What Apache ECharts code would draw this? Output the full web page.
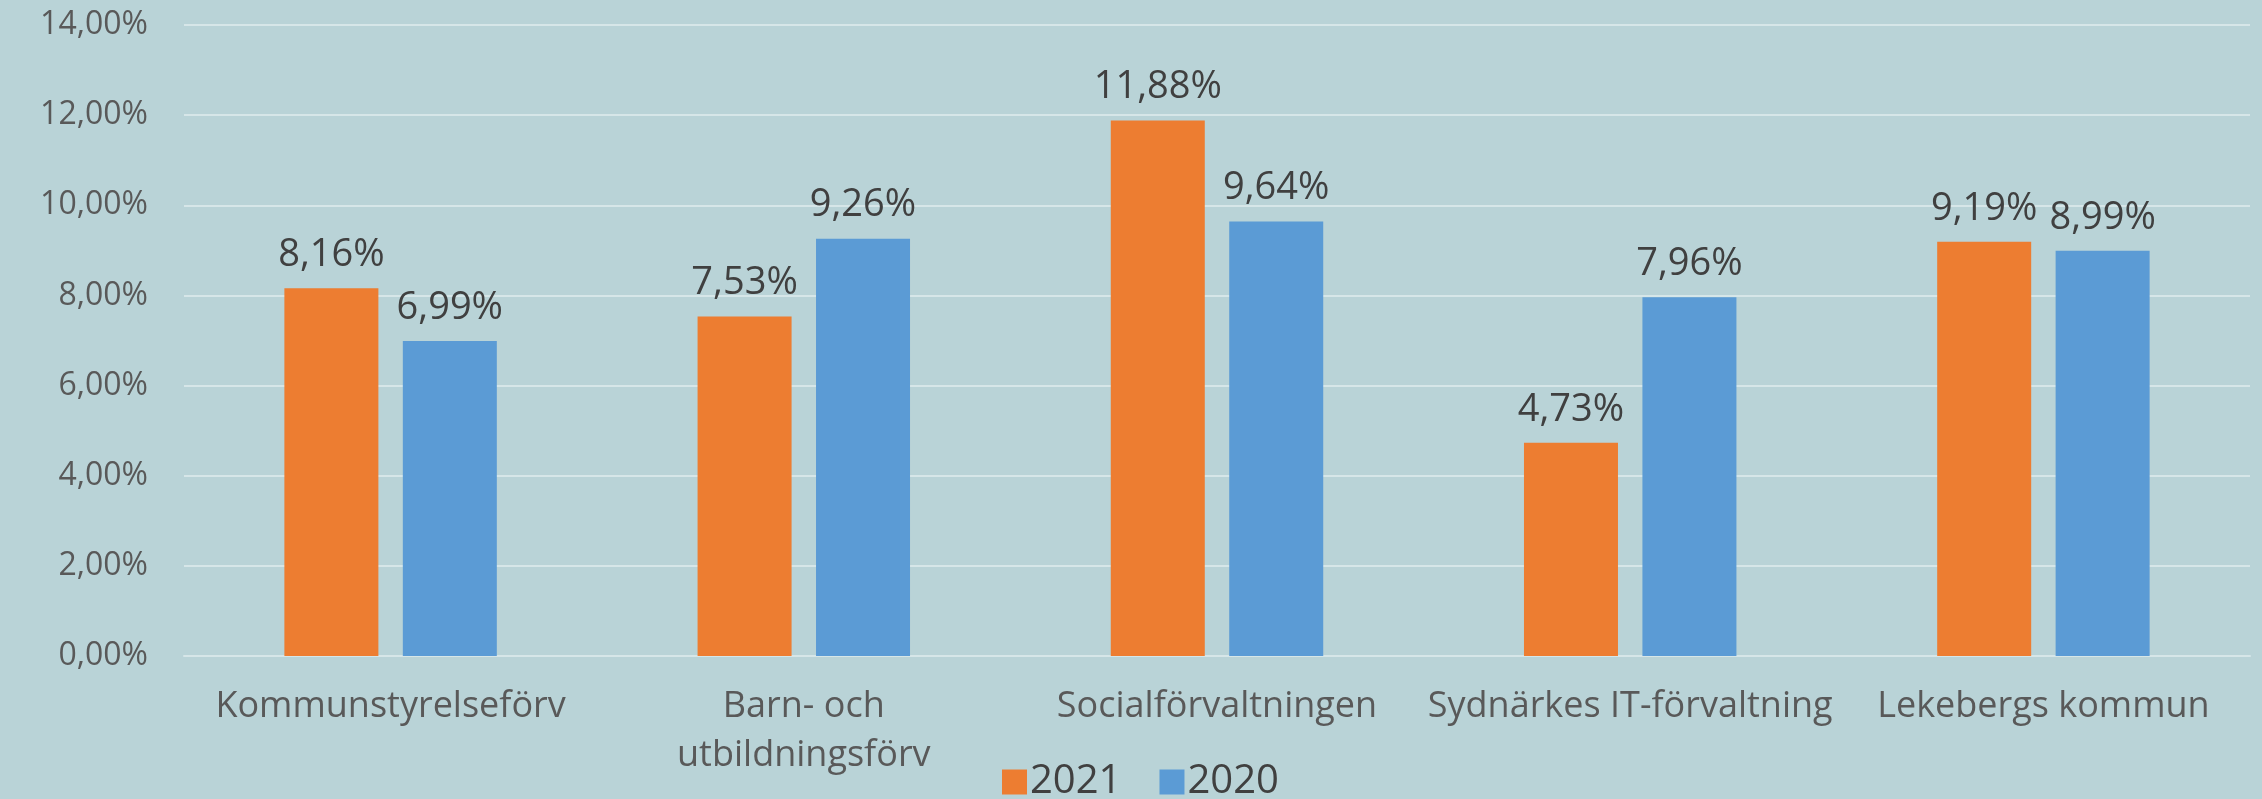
<!DOCTYPE html>
<html>
<head>
<meta charset="utf-8">
<script src="https://cdn.jsdelivr.net/npm/echarts@6/dist/echarts.min.js"></script>
<style>
html,body{margin:0;padding:0;background:#b9d3d7;}
#chart{width:2262px;height:799px;}
</style>
</head>
<body>
<div id="chart"></div>
<script>
var categories = ['Kommunstyrelseförv', 'Barn- och\nutbildningsförv', 'Socialförvaltningen', 'Sydnärkes IT-förvaltning', 'Lekebergs kommun'];
var series2021 = [8.16, 7.53, 11.88, 4.73, 9.19];
var series2020 = [6.99, 9.26, 9.64, 7.96, 8.99];
var seriesNames = ['2021', '2020'];
var yTicks = { min: 0, max: 14, interval: 2 };

function pct(v) { return v.toFixed(2).replace('.', ',') + '%'; }

var FONT = 'Open Sans';
var chart = echarts.init(document.getElementById('chart'), null, { renderer: 'canvas' });
chart.setOption({
  backgroundColor: '#b9d3d7',
  animation: false,
  textStyle: { fontFamily: FONT },
  grid: { left: 184, right: 12, top: 25, bottom: 143, containLabel: false },
  legend: {
    data: seriesNames,
    bottom: -8,
    left: 997,
    itemWidth: 25,
    itemHeight: 25,
    itemGap: 38,
    icon: 'rect',
    textStyle: { fontSize: 40, color: '#404040', fontFamily: FONT, padding: [0, 0, 0, -2] }
  },
  xAxis: {
    type: 'category',
    data: categories,
    axisTick: { show: false },
    axisLine: { show: true, lineStyle: { color: '#d6e6e8', width: 2 } },
    axisLabel: { fontSize: 36, color: '#595959', fontFamily: FONT, margin: 26, lineHeight: 49, interval: 0 }
  },
  yAxis: {
    type: 'value',
    min: yTicks.min,
    max: yTicks.max,
    interval: yTicks.interval,
    axisLine: { show: false },
    axisTick: { show: false },
    splitLine: { lineStyle: { color: '#d6e6e8', width: 2 } },
    axisLabel: { fontSize: 32, color: '#595959', fontFamily: FONT, margin: 36, formatter: function (v) { return pct(v); } }
  },
  series: [
    {
      name: seriesNames[0], type: 'bar', data: series2021,
      itemStyle: { color: '#ED7D31' },
      barWidth: 94, barGap: '26%',
      label: { show: true, position: 'top', distance: 14, fontSize: 38, color: '#404040', fontFamily: FONT, formatter: function (p) { return pct(p.value); } }
    },
    {
      name: seriesNames[1], type: 'bar', data: series2020,
      itemStyle: { color: '#5B9BD5' },
      barWidth: 94, barGap: '26%',
      label: { show: true, position: 'top', distance: 14, fontSize: 38, color: '#404040', fontFamily: FONT, formatter: function (p) { return pct(p.value); } }
    }
  ]
});
</script>
</body>
</html>
